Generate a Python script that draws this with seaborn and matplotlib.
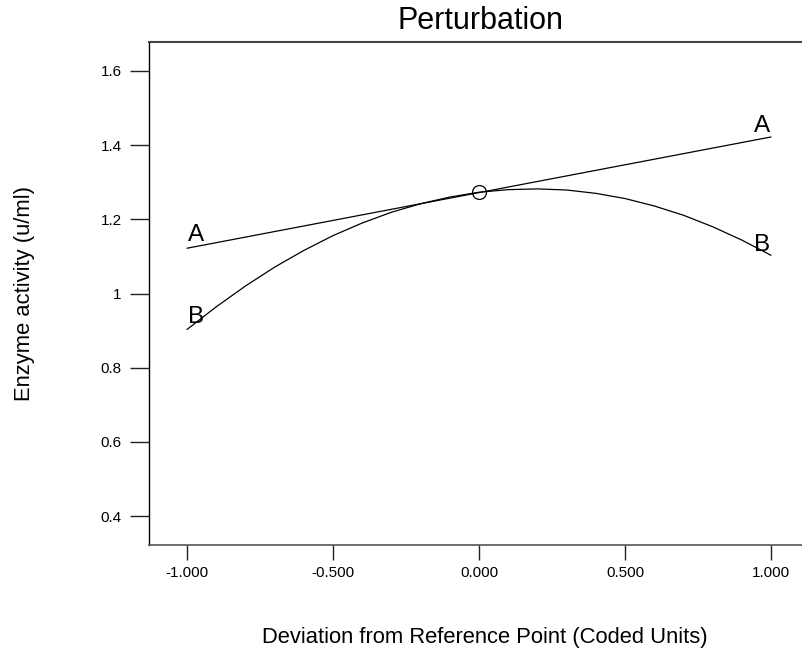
import matplotlib
matplotlib.use("Agg")
import matplotlib.pyplot as plt
import seaborn as sns
import pandas as pd

# Data
a_x = [-1.0, 1.0]
a_y = [1.122, 1.422]

b_x = [-1.0, -0.9, -0.8, -0.7, -0.6, -0.5, -0.4, -0.3, -0.2, -0.1, 0.0,
       0.1, 0.2, 0.3, 0.4, 0.5, 0.6, 0.7, 0.8, 0.9, 1.0]
b_y = [0.903, 0.964, 1.020, 1.071, 1.116, 1.156, 1.190, 1.219, 1.242, 1.260, 1.273,
       1.280, 1.282, 1.279, 1.270, 1.256, 1.236, 1.211, 1.180, 1.144, 1.103]

ref_x = [0.0]
ref_y = [1.273]

x_ticks = [-1.0, -0.5, 0.0, 0.5, 1.0]
x_tick_labels = ["-1.000", "-0.500", "0.000", "0.500", "1.000"]
y_ticks = [0.4, 0.6, 0.8, 1.0, 1.2, 1.4, 1.6]
y_tick_labels = ["0.4", "0.6", "0.8", "1", "1.2", "1.4", "1.6"]

# label positions (factor name, x, y)
label_names = ["A", "B", "A", "B"]
label_x = [-0.97, -0.97, 0.97, 0.97]
label_y = [1.157, 0.937, 1.452, 1.131]

sns.set_style("ticks")
plt.rcParams["font.family"] = ["Liberation Sans", "DejaVu Sans"]
plt.rcParams["text.color"] = "black"
plt.rcParams["xtick.labelcolor"] = "black"
plt.rcParams["ytick.labelcolor"] = "black"

W, H = 802, 655
fig = plt.figure(figsize=(W / 100, H / 100), dpi=100)
left, right, top, bottom = 149, 802, 42, 545
ax = fig.add_axes([left / W, 1 - bottom / H, (right - left) / W, (bottom - top) / H])

df_a = pd.DataFrame({"x": a_x, "y": a_y})
df_b = pd.DataFrame({"x": b_x, "y": b_y})
sns.lineplot(data=df_a, x="x", y="y", ax=ax, color="black", linewidth=0.9, sort=False)
sns.lineplot(data=df_b, x="x", y="y", ax=ax, color="black", linewidth=0.9, sort=False)
ax.plot(ref_x, ref_y, marker="o", markersize=10, markerfacecolor="none",
        markeredgecolor="black", markeredgewidth=0.9, linestyle="none")

for n, lx, ly in zip(label_names, label_x, label_y):
    ax.text(lx, ly, n, fontsize=17.5, ha="center", va="center", color="black")

ax.set_xlim(-1.130, 1.106)
ax.set_ylim(0.322, 1.678)
ax.set_xticks(x_ticks)
ax.set_xticklabels(x_tick_labels)
ax.set_yticks(y_ticks)
ax.set_yticklabels(y_tick_labels)
ax.tick_params(axis="y", length=13.7, width=1, direction="out", pad=6, labelsize=11,
               color="#222222", labelcolor="black")
ax.tick_params(axis="x", length=10.8, width=1, direction="out", pad=4, labelsize=11,
               color="#222222", labelcolor="black")

for s in ["top", "left", "bottom"]:
    ax.spines[s].set_visible(True)
ax.spines["right"].set_visible(False)
ax.spines["left"].set_color("black")
ax.spines["left"].set_linewidth(1.0)
ax.spines["top"].set_color("#444444")
ax.spines["top"].set_linewidth(1.5)
ax.spines["bottom"].set_color("#555555")
ax.spines["bottom"].set_linewidth(1.2)

ax.set_xlabel("")
ax.set_ylabel("")
fig.text(480 / W, 1 - 21 / H, "Perturbation", fontsize=22, ha="center", va="center", color="black")
fig.text(485 / W, 1 - 637 / H, "Deviation from Reference Point (Coded Units)",
         fontsize=15.8, ha="center", va="center", color="black")
fig.text(25 / W, 1 - 293 / H, "Enzyme activity (u/ml)", fontsize=15.8,
         ha="center", va="center", rotation=90, color="black")

fig.savefig("out.png", dpi=100, facecolor="white")
